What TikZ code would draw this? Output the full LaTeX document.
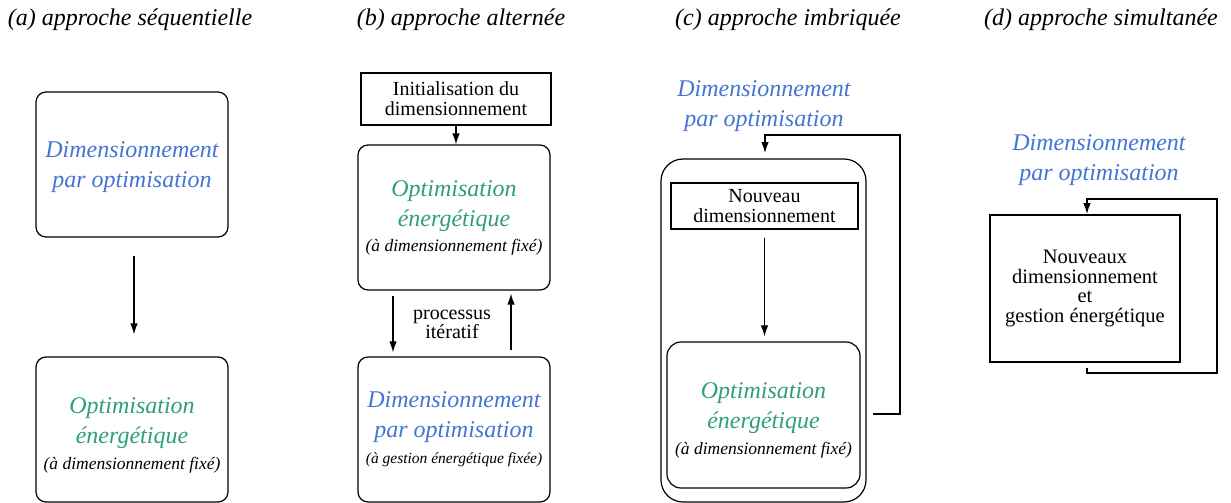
\documentclass[tikz,border=0pt]{standalone}
\usepackage{fontspec}
\setmainfont{Liberation Serif}
\usetikzlibrary{arrows.meta,calc}
\definecolor{cblue}{RGB}{68,116,212}
\definecolor{cgreen}{RGB}{46,158,126}
\tikzset{
  ttl/.style={font=\fontsize{24}{29}\selectfont\itshape, anchor=base, inner sep=0pt},
  bigtxt/.style={font=\fontsize{24}{30}\selectfont\itshape, align=center, inner sep=0pt},
  blk/.style={font=\fontsize{20}{20}\selectfont, align=center, inner sep=0pt},
  rbox/.style={draw, line width=1.2pt, rounded corners=10pt, minimum width=192pt, minimum height=145pt, inner sep=0pt},
  sbox/.style={draw, line width=1.2pt, align=center, inner sep=0pt, font=\fontsize{20}{20}\selectfont},
  arr/.style={-{Latex[length=11pt,width=7.5pt]}, line width=1.2pt}
}
\newcommand{\smallit}[1]{{\fontsize{17.5}{21}\selectfont #1}}
\newcommand{\smallitb}[1]{{\fontsize{15.5}{19}\selectfont #1}}
\begin{document}
\begin{tikzpicture}[x=1pt,y=-1pt]
\useasboundingbox (0,0) rectangle (1231,503);
% titles
\node[ttl] (ta) at (130,26) {(a) approche séquentielle};
\node[ttl] (tb) at (461,26) {(b) approche alternée};
\node[ttl] (tc) at (788,26) {(c) approche imbriquée};
\node[ttl] (td) at (1101,26) {(d) approche simultanée};

% (a)
\node[rbox] (a1) at (132,164.5) {};
\node[bigtxt, text=cblue] (a1t) at (132,167.5) {Dimensionnement\\par optimisation};
\node[rbox] (a2) at (132,429.5) {};
\node[bigtxt] (a2t) at (132,435) {\textcolor{cgreen}{Optimisation}\\\textcolor{cgreen}{énergétique}\\[-4pt]\smallit{(à dimensionnement fixé)}};
\draw[arr, shorten <=18pt, shorten >=22pt] ([xshift=2pt]a1.south) -- ([xshift=2pt]a2.north);

% (b)
\node[sbox, minimum width=190pt, minimum height=52pt] (bi) at (456,99) {Initialisation du\\dimensionnement};
\node[rbox] (b1) at (454,217.5) {};
\node[bigtxt] (b1t) at (454,217.5) {\textcolor{cgreen}{Optimisation}\\\textcolor{cgreen}{énergétique}\\[-5pt]\smallit{(à dimensionnement fixé)}};
\node[rbox] (b2) at (454,429.5) {};
\node[bigtxt] (b2t) at (454,429.5) {\textcolor{cblue}{Dimensionnement}\\\textcolor{cblue}{par optimisation}\\[-4pt]\smallitb{(à gestion énergétique fixée)}};
\draw[arr] (bi.south) -- (bi.south |- b1.north);
\draw[arr, shorten <=5pt, shorten >=4pt] ([xshift=-61pt]b1.south) -- ([xshift=-61pt]b2.north);
\draw[arr, shorten <=6pt, shorten >=3pt] ([xshift=57pt]b2.north) -- ([xshift=57pt]b1.south);
\node[blk, font=\fontsize{20}{19.5}\selectfont] (bp) at (452,324.5) {processus\\itératif};

% (c)
\node[bigtxt, text=cblue] (cl) at (764,106) {Dimensionnement\\par optimisation};
\node[draw, line width=1.2pt, rounded corners=22pt, minimum width=205pt, minimum height=343pt, inner sep=0pt] (co) at (763.5,330.5) {};
\node[sbox, minimum width=187pt, minimum height=46pt] (cn) at (764.5,206) {Nouveau\\dimensionnement};
\node[rbox, rounded corners=14pt, minimum width=193pt, minimum height=146pt] (ci) at (763.5,415) {};
\node[bigtxt] (cit) at (763.5,420.5) {\textcolor{cgreen}{Optimisation}\\\textcolor{cgreen}{énergétique}\\[-4pt]\smallit{(à dimensionnement fixé)}};
\draw[arr, shorten <=8pt, shorten >=5pt] (cn.south) -- (cn.south |- ci.north);
\coordinate (cfs) at (873,414);
\coordinate (cfc) at (900,135);
\coordinate (cft) at (765,153);
\draw[arr] (cfs) -| (cfc) -| (cft);

% (d)
\node[bigtxt, text=cblue] (dl) at (1099,160) {Dimensionnement\\par optimisation};
\node[sbox, minimum width=190pt, minimum height=147pt, font=\fontsize{20.5}{19.5}\selectfont] (db) at (1085,288.5) {Nouveaux\\dimensionnement\\et\\gestion énergétique};
\coordinate (dfs) at (1087,368);
\coordinate (dc1) at (1217,373);
\coordinate (dc2) at (1217,199);
\coordinate (dft) at (1087,214);
\draw[arr] (dfs) |- (dc1) -- (dc2) -| (dft);
\end{tikzpicture}
\end{document}
